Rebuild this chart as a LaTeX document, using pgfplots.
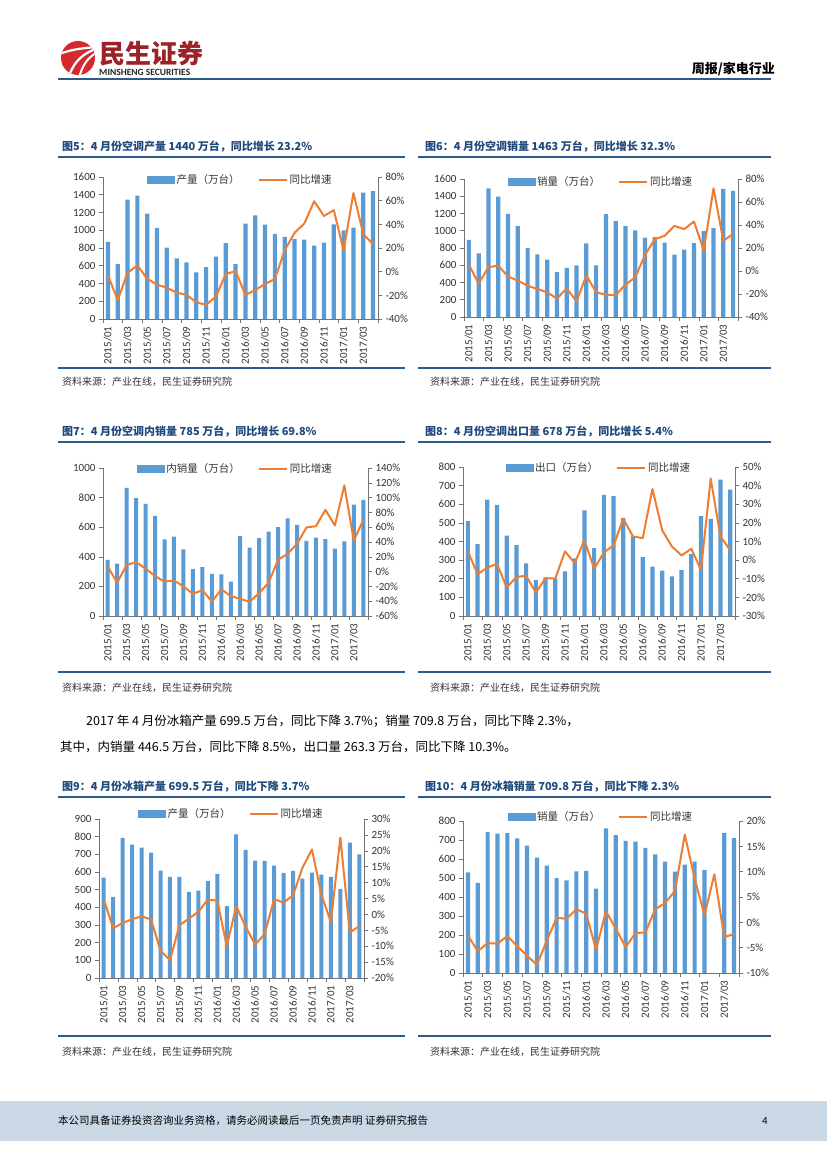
\documentclass[border=0pt]{standalone}
\usepackage{fontspec}
\usepackage{pgfplots}
\usepackage{pgfplotstable}
\pgfplotsset{compat=1.18}
\setmainfont{Carlito}
\newfontfamily\cjk{Noto Sans CJK SC}
\definecolor{barblue}{HTML}{5B9BD5}
\definecolor{lineorange}{HTML}{ED7D31}
\definecolor{titleblue}{HTML}{1F497D}
\definecolor{rulecol}{HTML}{2E5C8A}
\definecolor{footbg}{HTML}{CAD8E6}
\definecolor{logored}{HTML}{D42A2F}
\definecolor{logotext}{HTML}{9B2226}

\pgfplotstableread{
x bar pct
0 870 -3
1 618 -24
2 1345 -1
3 1390 5.3
4 1187 -6
5 1026 -11
6 805 -13.5
7 682 -17.8
8 637 -19.4
9 524 -26
10 584 -28
11 704 -21
12 854 -2
13 618 0.5
14 1075 -19.7
15 1169 -15.5
16 1064 -10.4
17 959 -6.2
18 925 18
19 899 32.8
20 895 40.7
21 828 59.5
22 861 47
23 1067 52
24 1000 18
25 1030 66.5
26 1423 31.7
27 1440 23.2
}\tA
\pgfplotstableread{
x bar pct
0 895 5.4
1 737 -11
2 1490 3.4
3 1397 4.6
4 1197 -4.7
5 1058 -8.4
6 799 -12.8
7 726 -15.7
8 664 -18.6
9 521 -24
10 571 -15
11 598 -26.4
12 853 -3.8
13 598 -18.6
14 1193 -20.6
15 1112 -20.9
16 1058 -11.9
17 1004 -5.5
18 919 14
19 927 27.7
20 861 30.6
21 722 39.2
22 780 36.4
23 857 43
24 996 17.9
25 1031 71.9
26 1486 26.2
27 1463 32.3
}\tB
\pgfplotstableread{
x bar pct
0 380 6.8
1 354 -15
2 865 9
3 797 12.7
4 757 4
5 677 -6
6 517 -13.5
7 537 -12
8 450 -20
9 316 -30
10 330 -25
11 285 -40.6
12 282 -24
13 233 -33
14 540 -37
15 462 -40.6
16 527 -29
17 570 -15
18 600 16
19 659 24
20 615 37.5
21 507 59.6
22 530 61.4
23 520 83.5
24 456 62.3
25 505 116.5
26 752 42
27 785 69.8
}\tC
\pgfplotstableread{
x bar pct
0 510 4.7
1 386 -7.5
2 625 -4
3 597 -2
4 432 -14.7
5 380 -9
6 283 -8.4
7 192 -17.4
8 208 -9.7
9 201 -9.9
10 240 4.7
11 310 -1.6
12 567 10.8
13 364 -4.7
14 650 4.1
15 644 7.9
16 527 22.2
17 427 12.7
18 316 11.8
19 265 38.2
20 244 16.1
21 213 7.4
22 247 2.5
23 332 6.1
24 536 -5.2
25 522 43.8
26 732 12.7
27 678 5.4
}\tD
\pgfplotstableread{
x bar pct
0 568 4.8
1 459 -4.3
2 793 -2.7
3 755 -1.5
4 738 -0.6
5 710 -1.6
6 608 -11.4
7 573 -14.4
8 572 -3.4
9 488 -1.3
10 495 0.8
11 550 4.7
12 590 4.3
13 407 -10
14 813 2.6
15 725 -3.9
16 665 -9.5
17 663 -6.2
18 636 4.8
19 595 3.7
20 606 6
21 562 14.7
22 597 20.4
23 585 6.2
24 573 -2.4
25 505 24.2
26 766 -5.7
27 699.5 -3.7
}\tE
\pgfplotstableread{
x bar pct
0 530 -2.6
1 475 -5.7
2 742 -4.1
3 733 -4.2
4 736 -2.7
5 708 -4.7
6 670 -6.6
7 607 -8.4
8 565 -3.6
9 500 0.9
10 488 0.7
11 535 2.6
12 537 1.7
13 444 -5.4
14 761 2.2
15 726 -1.25
16 696 -4.9
17 691 -2.1
18 658 -2
19 625 2.6
20 586 3.8
21 533 6.2
22 570 17.3
23 586 8.7
24 542 1.4
25 nan 9.5
26 737 -2.9
27 709.8 -2.3
}\tF

\pgfplotsset{
  base/.style={scale only axis, anchor=south west, xmin=-0.5, xmax=27.5,
    enlargelimits=false, clip=false,
    /pgf/number format/assume math mode=true,
    /pgf/number format/1000 sep={},
    tick label style={font=\fontsize{11}{12}\selectfont, text=black!80},
    axis line style={black!55, line width=0.6pt, -},
    tick style={black!55, line width=0.6pt},
    tick align=outside, major tick length=4pt, minor tick length=4pt},
  barax/.style={base, axis y line*=left, axis x line*=bottom, ybar, ymin=0,
    xtick={-0.5,1.5,...,27.5}, xticklabels={},
    extra x ticks={0,2,...,26},
    extra x tick labels={2015/01,2015/03,2015/05,2015/07,2015/09,2015/11,2016/01,2016/03,2016/05,2016/07,2016/09,2016/11,2017/01,2017/03},
    extra x tick style={major tick length=0pt},
    x tick label style={rotate=90, anchor=east, xshift=-4pt}},
  lineax/.style={base, axis y line*=right, axis x line=none,
    yticklabel={\pgfmathprintnumber{\tick}\%},
    legend columns=2,
    legend style={at={(0.5,1)}, anchor=center, draw=none, fill=none,
      font=\cjk\fontsize{10.5}{12}\selectfont, text=black!80,
      /tikz/every even column/.append style={column sep=16pt}}},
}

\newcommand\chart[9]{%
\begin{axis}[barax, at={(#2pt,-#3pt)}, width=#4pt, height=#5pt, #6]
\addplot[fill=barblue, draw=none] table[x=x,y=bar]{#1};
\end{axis}
\begin{axis}[lineax, at={(#2pt,-#3pt)}, width=#4pt, height=#5pt, #7, legend style={yshift=#9pt}]
\addlegendimage{legend image code/.code={\fill[barblue] (0pt,-3.5pt) rectangle (27pt,3.5pt);}}
\addlegendentry{#8}
\addplot[lineorange, line width=2pt, line join=round, no markers,
  legend image code/.code={\draw[lineorange, line width=2pt] (0pt,0pt) -- (28pt,0pt);}] table[x=x,y=pct]{#1};
\addlegendentry{同比增速}
\end{axis}}

\begin{document}
\begin{tikzpicture}
\path[use as bounding box] (0pt,0pt) rectangle (827pt,-1169pt);
\fill[white] (0pt,0pt) rectangle (827pt,-1169pt);

% header
\fill[logored] (78pt,-58pt) circle (17pt);
\begin{scope}
\clip (78pt,-58pt) circle (17pt);
\draw[white, line width=2.2pt] (62pt,-53pt) .. controls (74pt,-49pt) and (84pt,-48pt) .. (97pt,-47pt);
\draw[white, line width=2.2pt] (69pt,-76pt) .. controls (73pt,-65pt) and (79pt,-56pt) .. (93pt,-50pt);
\draw[white, line width=2pt] (79pt,-78pt) .. controls (82pt,-67pt) and (86pt,-59pt) .. (96pt,-53pt);
\end{scope}
\node[anchor=west, inner sep=0, text=logotext, font=\cjk\bfseries\fontsize{26}{26}\selectfont] at (99pt,-54pt) {民生证券};
\node[anchor=west, inner sep=0, text=black!85, font=\bfseries\fontsize{9.5}{9.5}\selectfont] at (99pt,-72pt) {MINSHENG SECURITIES};
\node[anchor=east, inner sep=0, font=\cjk\bfseries\fontsize{13}{13}\selectfont] at (775pt,-69pt) {周报/家电行业};
\draw[rulecol, line width=2.5pt] (58pt,-79pt) -- (771pt,-79pt);

% titles
\foreach \yy in {157,442,797}{
  \draw[rulecol, line width=1.8pt] (58pt,-\yy pt) -- (405pt,-\yy pt);
  \draw[rulecol, line width=1.8pt] (418pt,-\yy pt) -- (771pt,-\yy pt);}
\foreach \yy in {368,672,1036}{
  \draw[rulecol, line width=1.8pt] (58pt,-\yy pt) -- (405pt,-\yy pt);
  \draw[rulecol, line width=1.8pt] (418pt,-\yy pt) -- (771pt,-\yy pt);}
\tikzset{ttl/.style={anchor=west, inner sep=0, text=titleblue, font=\cjk\bfseries\fontsize{11}{11}\selectfont},
  src/.style={anchor=west, inner sep=0, text=black!80, font=\cjk\fontsize{10}{10}\selectfont}}
\node[ttl] at (62pt,-147pt) {图5：4 月份空调产量 1440 万台，同比增长 23.2\%};
\node[ttl] at (425pt,-147pt) {图6：4 月份空调销量 1463 万台，同比增长 32.3\%};
\node[ttl] at (62pt,-432pt) {图7：4 月份空调内销量 785 万台，同比增长 69.8\%};
\node[ttl] at (425pt,-432pt) {图8：4 月份空调出口量 678 万台，同比增长 5.4\%};
\node[ttl] at (62pt,-787pt) {图9：4 月份冰箱产量 699.5 万台，同比下降 3.7\%};
\node[ttl] at (425pt,-787pt) {图10：4 月份冰箱销量 709.8 万台，同比下降 2.3\%};
\foreach \yy in {382,688,1052}{
  \node[src] at (62pt,-\yy pt) {资料来源：产业在线，民生证券研究院};
  \node[src] at (430pt,-\yy pt) {资料来源：产业在线，民生证券研究院};}

% paragraph
\node[anchor=west, inner sep=0, font=\cjk\fontsize{12.5}{12.5}\selectfont] at (86pt,-721pt) {2017 年 4 月份冰箱产量 699.5 万台，同比下降 3.7\%；销量 709.8 万台，同比下降 2.3\%，};
\node[anchor=west, inner sep=0, font=\cjk\fontsize{12.5}{12.5}\selectfont] at (60pt,-747pt) {其中，内销量 446.5 万台，同比下降 8.5\%，出口量 263.3 万台，同比下降 10.3\%。};

% footer
\fill[footbg] (0pt,-1101pt) rectangle (827pt,-1141pt);
\node[anchor=west, inner sep=0, font=\cjk\fontsize{10.5}{10.5}\selectfont] at (58pt,-1121pt) {本公司具备证券投资咨询业务资格，请务必阅读最后一页免责声明\ 证券研究报告};
\node[inner sep=0, font=\fontsize{11}{11}\selectfont] at (765pt,-1121pt) {4};

% charts
\chart{\tA}{103}{319}{275}{142}{ymax=1600, ytick={0,200,...,1600}, bar width=4.2pt}{ymin=-40, ymax=80, ytick={-40,-20,...,80}}{产量（万台）}{-3}
\chart{\tB}{464}{317}{274}{138}{ymax=1600, ytick={0,200,...,1600}, bar width=4.2pt}{ymin=-40, ymax=80, ytick={-40,-20,...,80}}{销量（万台）}{-3}
\chart{\tC}{103}{616}{265}{148}{ymax=1000, ytick={0,200,...,1000}, bar width=4pt}{ymin=-60, ymax=140, ytick={-60,-40,...,140}}{内销量（万台）}{-1}
\chart{\tD}{463}{616}{272}{149}{ymax=800, ytick={0,100,...,800}, bar width=4.2pt}{ymin=-30, ymax=50, ytick={-30,-20,...,50}}{出口（万台）}{-1}
\chart{\tE}{99}{978}{265}{159}{ymax=900, ytick={0,100,...,900}, bar width=4pt}{ymin=-20, ymax=30, ytick={-20,-15,...,30}}{产量（万台）}{5}
\chart{\tF}{463}{973}{276}{152}{ymax=800, ytick={0,100,...,800}, bar width=4.2pt}{ymin=-10, ymax=20, ytick={-10,-5,...,20}}{销量（万台）}{4}
\end{tikzpicture}
\end{document}
